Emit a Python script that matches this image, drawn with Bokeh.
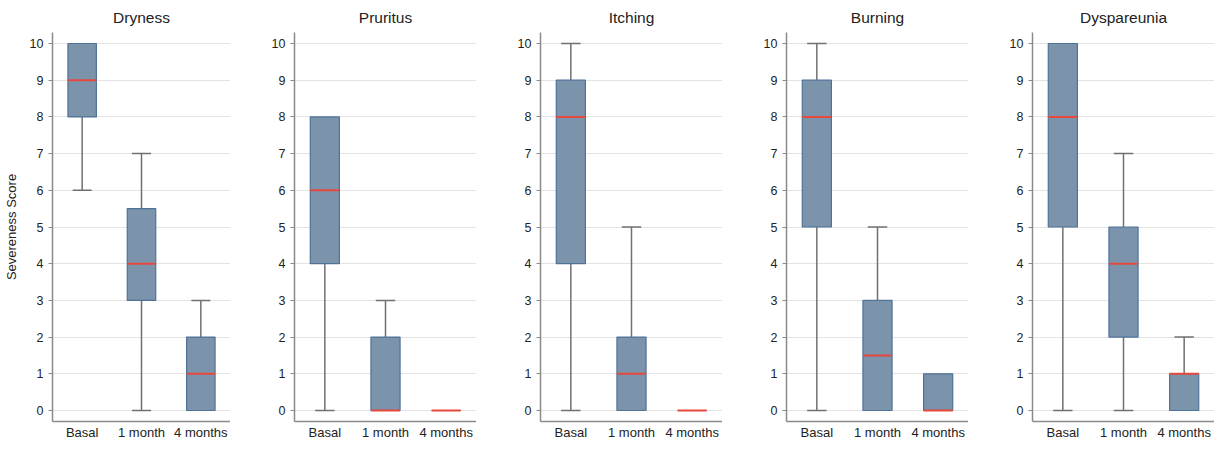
from bokeh.plotting import figure
from bokeh.layouts import row
from bokeh.models import ColumnDataSource, FixedTicker, Range1d, FactorRange
from bokeh.transform import dodge
from bokeh.embed import file_html
from bokeh.resources import INLINE

# ---- data ----
symptoms = ["Dryness", "Pruritus", "Itching", "Burning", "Dyspareunia"]
timepoints = ["Basal", "1 month", "4 months"]
y_ticks = [0, 1, 2, 3, 4, 5, 6, 7, 8, 9, 10]
y_label = "Severeness Score"

low = {
    "Dryness":     [6, 0, 0],
    "Pruritus":    [0, 0, 0],
    "Itching":     [0, 0, 0],
    "Burning":     [0, 0, 0],
    "Dyspareunia": [0, 0, 0],
}
q1 = {
    "Dryness":     [8, 3, 0],
    "Pruritus":    [4, 0, 0],
    "Itching":     [4, 0, 0],
    "Burning":     [5, 0, 0],
    "Dyspareunia": [5, 2, 0],
}
median = {
    "Dryness":     [9, 4, 1],
    "Pruritus":    [6, 0, 0],
    "Itching":     [8, 1, 0],
    "Burning":     [8, 1.5, 0],
    "Dyspareunia": [8, 4, 1],
}
q3 = {
    "Dryness":     [10, 5.5, 2],
    "Pruritus":    [8, 2, 0],
    "Itching":     [9, 2, 0],
    "Burning":     [9, 3, 1],
    "Dyspareunia": [10, 5, 1],
}
high = {
    "Dryness":     [10, 7, 3],
    "Pruritus":    [8, 3, 0],
    "Itching":     [10, 5, 0],
    "Burning":     [10, 5, 1],
    "Dyspareunia": [10, 7, 2],
}

# ---- style ----
FONT = "Liberation Sans"
BOX_FILL = "#7b93ab"
BOX_LINE = "#4f7298"
MEDIAN = "#e8473c"
WHISKER = "#707070"
GRID = "#e3e3e3"
AXIS = "#8a8a8a"

FRAME_W = 182
GAP = 64
FIRST_LEFT = 48
H = 442
TOP = 24
BOTTOM = 16

figs = []
for i, s in enumerate(symptoms):
    left = FIRST_LEFT if i == 0 else GAP
    p = figure(
        x_range=FactorRange(*timepoints, range_padding=0),
        y_range=Range1d(-0.3, 10.3),
        width=left + FRAME_W, height=H,
        min_border_left=left, min_border_right=0,
        min_border_top=TOP, min_border_bottom=BOTTOM,
        output_backend="svg", toolbar_location=None,
        title=s,
    )
    p.title.align = "center"
    p.title.text_font = FONT
    p.title.text_font_size = "15.5px"
    p.title.text_font_style = "normal"
    p.title.text_color = "#222222"
    p.title.standoff = 13
    p.outline_line_color = None
    p.background_fill_color = "white"
    p.border_fill_color = "white"

    p.xgrid.grid_line_color = None
    p.ygrid.grid_line_color = GRID
    p.ygrid.grid_line_width = 1

    p.yaxis.ticker = FixedTicker(ticks=y_ticks)
    p.yaxis.minor_tick_line_color = None
    p.yaxis.major_tick_line_color = AXIS
    p.yaxis.major_tick_out = 4
    p.yaxis.major_tick_in = 0
    p.yaxis.axis_line_color = AXIS
    p.yaxis.axis_line_width = 1.5
    p.yaxis.major_label_text_font = FONT
    p.yaxis.major_label_text_font_size = "12.5px"
    p.yaxis.major_label_text_color = "#222222"
    p.yaxis.major_label_standoff = 5

    p.xaxis.major_tick_line_color = None
    p.xaxis.major_tick_out = 0
    p.xaxis.major_tick_in = 0
    p.xaxis.minor_tick_line_color = None
    p.xaxis.axis_line_color = AXIS
    p.xaxis.axis_line_width = 1.5
    p.xaxis.major_label_text_font = FONT
    p.xaxis.major_label_text_font_size = "13px"
    p.xaxis.major_label_text_color = "#222222"
    p.xaxis.major_label_standoff = 3

    if i == 0:
        p.yaxis.axis_label = y_label
        p.yaxis.axis_label_text_font = FONT
        p.yaxis.axis_label_text_font_size = "13px"
        p.yaxis.axis_label_text_font_style = "normal"
        p.yaxis.axis_label_text_color = "#222222"
        p.yaxis.axis_label_standoff = 8

    src = ColumnDataSource(dict(
        cat=timepoints, low=low[s], q1=q1[s], med=median[s],
        q3=q3[s], high=high[s],
    ))

    lo_idx = [k for k in range(3) if low[s][k] < q1[s][k]]
    lo_src = ColumnDataSource(dict(
        cat=[timepoints[k] for k in lo_idx],
        a=[low[s][k] for k in lo_idx],
        b=[q1[s][k] for k in lo_idx],
    ))
    hi_idx = [k for k in range(3) if high[s][k] > q3[s][k]]
    hi_src = ColumnDataSource(dict(
        cat=[timepoints[k] for k in hi_idx],
        a=[q3[s][k] for k in hi_idx],
        b=[high[s][k] for k in hi_idx],
    ))
    for ws in (lo_src, hi_src):
        p.segment(x0="cat", y0="a", x1="cat", y1="b", source=ws,
                  line_color=WHISKER, line_width=1.5)
    p.segment(x0=dodge("cat", -0.16, range=p.x_range), y0="a",
              x1=dodge("cat", 0.16, range=p.x_range), y1="a",
              source=lo_src, line_color=WHISKER, line_width=1.5)
    p.segment(x0=dodge("cat", -0.16, range=p.x_range), y0="b",
              x1=dodge("cat", 0.16, range=p.x_range), y1="b",
              source=hi_src, line_color=WHISKER, line_width=1.5)

    p.vbar(x="cat", width=0.48, bottom="q1", top="q3", source=src,
           fill_color=BOX_FILL, line_color=BOX_LINE, line_width=1.2)
    p.segment(x0=dodge("cat", -0.24, range=p.x_range), y0="med",
              x1=dodge("cat", 0.24, range=p.x_range), y1="med",
              source=src, line_color=MEDIAN, line_width=2)

    figs.append(p)

layout = row(*figs)
open("out.html", "w").write(file_html(layout, INLINE))
